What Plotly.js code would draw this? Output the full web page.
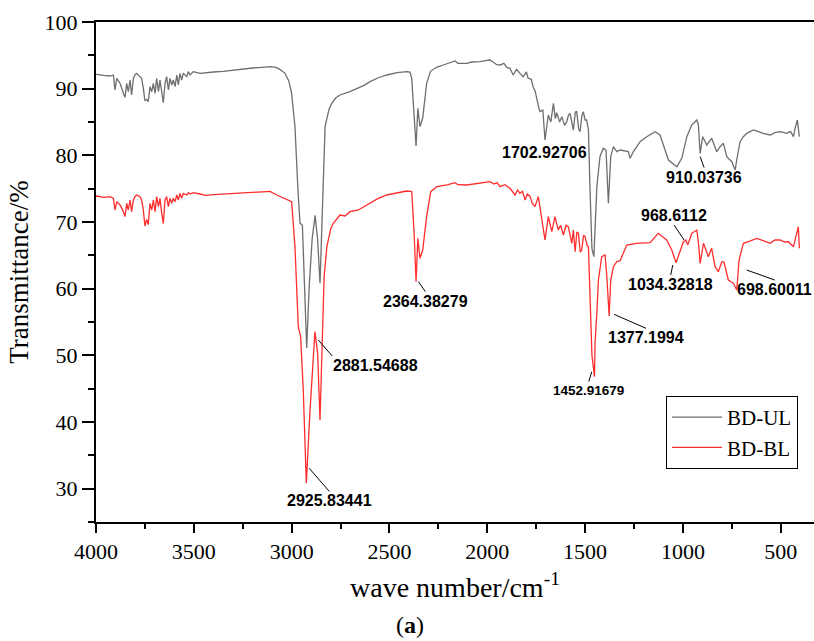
<!DOCTYPE html>
<html><head><meta charset="utf-8">
<script src="https://cdn.plot.ly/plotly-3.0.1.min.js"></script>
<style>html,body{margin:0;padding:0;background:#fff;} #chart{width:814px;height:641px;}</style>
</head><body><div id="chart"></div>
<script>
// BD-UL (grey) spectrum
const wnUL = [4000,3996,3960,3940,3928,3911,3903,3894,3877,3860,3852,3843,3835,3826,3818,3809,3801,3792,3775,3767,3758,3750,3741,3733,3724,3715,3707,3698,3690,3681,3673,3664,3656,3647,3639,3630,3622,3613,3605,3596,3587,3579,3571,3562,3554,3536,3528,3519,3503,3468,3440,3400,3350,3300,3250,3200,3150,3110,3080,3060,3034,3015,3000,2983,2967,2957,2945,2935,2923,2910,2895,2880,2867,2855,2841,2829,2810,2795,2775,2753,2702,2661,2630,2599,2560,2514,2460,2412,2395,2386,2375,2364,2355,2344,2330,2310,2290,2260,2225,2180,2165,2150,2105,2080,2037,2010,1986,1965,1952,1935,1915,1900,1884,1868,1850,1833,1817,1800,1792,1775,1766,1755,1747,1735,1730,1716,1705,1695,1688,1675,1662,1652,1645,1630,1619,1605,1594,1585,1577,1560,1550,1543,1533,1526,1516,1509,1500,1492,1483,1475,1465,1455,1448,1440,1424,1407,1393,1381,1369,1355,1338,1321,1279,1270,1253,1219,1185,1142,1117,1091,1074,1031,1006,980,955,929,921,912,899,878,853,827,810,793,776,750,733,725,708,691,674,640,615,589,554,530,503,469,450,435,427,415,405];
const tUL = [92.2,92.15,92.0,91.9,91.9,92.05,89.8,91.55,90.8,89.3,88.7,90.8,89.55,91.3,89.05,91.55,92.05,92.3,91.8,91.55,90.05,88.2,88.4,88.05,90.3,89.55,90.8,89.3,91.55,89.55,91.3,89.3,87.9,90.8,91.8,89.8,91.55,90.55,91.3,90.3,92.05,90.55,92.3,91.3,92.3,91.8,92.55,92.05,92.55,92.3,92.4,92.5,92.6,92.8,92.9,93.1,93.2,93.3,93.2,92.9,92.3,91.2,89.3,84.3,74.3,69.8,69.5,60.0,51.1,60.5,67.5,71.0,67.3,60.8,74.3,84.3,86.8,87.8,88.6,89.05,89.55,90.05,90.5,91.05,91.6,92.05,92.4,92.55,92.5,91.5,86.0,81.4,87.05,84.3,85.6,90.8,92.6,93.2,93.55,94.0,94.15,93.8,93.8,94.0,94.05,94.2,94.3,93.9,93.6,93.55,93.8,93.2,93.05,92.05,92.9,92.3,91.8,92.5,91.6,91.4,90.3,89.6,88.3,86.9,86.55,86.8,82.3,85.0,86.05,85.0,87.8,85.5,86.4,85.0,85.8,84.5,85.05,86.0,86.3,83.8,86.5,86.55,84.0,83.55,86.0,86.55,85.3,85.3,83.8,75.0,66.0,64.8,70.0,75.3,79.8,81.05,80.8,72.8,79.8,81.3,80.55,80.8,80.55,79.55,80.55,82.05,82.8,83.55,83.05,80.8,79.3,78.3,79.55,82.8,84.55,85.3,84.6,80.3,82.8,81.55,82.55,80.55,81.3,81.8,79.8,79.05,77.8,79.3,82.05,82.8,83.3,83.8,83.5,83.3,83.05,83.4,83.55,83.3,83.6,82.8,84.0,85.3,82.8];

// BD-BL (red) spectrum
const wnBL = [4000,3996,3960,3940,3928,3911,3903,3894,3877,3860,3852,3843,3835,3826,3818,3809,3801,3792,3775,3767,3758,3750,3741,3733,3724,3715,3707,3698,3690,3681,3673,3664,3656,3647,3639,3630,3622,3613,3605,3596,3587,3579,3571,3562,3554,3536,3528,3519,3503,3468,3440,3400,3350,3300,3250,3200,3150,3110,3076,3042,3000,2983,2966,2954,2940,2925,2906,2881,2867,2855,2843,2834,2820,2800,2787,2753,2727,2702,2659,2630,2599,2560,2514,2460,2412,2386,2374,2364,2355,2344,2330,2310,2289,2258,2200,2165,2150,2105,2037,2010,1986,1965,1950,1935,1910,1884,1870,1858,1845,1833,1820,1807,1795,1781,1770,1756,1739,1722,1705,1688,1670,1654,1637,1625,1611,1598,1586,1568,1560,1551,1542,1534,1525,1517,1508,1500,1490,1483,1475,1465,1452,1449,1440,1432,1415,1398,1390,1377,1369,1355,1338,1321,1287,1236,1168,1126,1083,1057,1035,1014,998,985,975,955,929,921,912,895,887,870,853,836,819,801,790,768,742,725,713,699,691,665,623,590,554,530,503,480,461,435,427,410,405];
const tBL = [73.8,73.9,73.7,73.8,73.8,73.55,71.8,73.05,72.55,71.55,70.8,72.8,71.8,73.3,71.55,73.3,73.8,74.05,73.8,73.3,71.8,69.4,70.4,69.6,72.8,71.8,73.3,71.55,73.8,72.3,73.55,71.3,69.8,73.3,73.8,72.3,73.55,72.8,73.55,73.05,74.05,73.3,74.3,73.55,74.3,74.05,74.4,74.2,74.4,74.2,74.0,74.1,74.2,74.3,74.4,74.5,74.6,74.6,74.05,73.55,73.05,66.3,54.3,52.8,44.35,30.8,41.8,53.55,50.3,40.3,51.8,61.8,66.3,69.0,69.8,71.05,70.9,71.55,71.8,72.3,72.8,73.5,74.05,74.4,74.65,74.55,68.3,61.05,67.55,64.55,65.8,70.8,74.55,75.3,75.6,75.9,75.6,75.55,75.8,75.9,76.05,75.7,75.9,75.3,75.6,75.05,74.5,74.05,74.8,74.3,74.6,73.3,74.2,73.8,72.8,72.3,73.8,70.8,67.3,70.8,68.55,70.8,68.8,69.5,68.05,69.5,69.3,66.8,68.8,65.55,68.5,68.3,65.5,65.8,68.0,67.8,66.5,66.3,60.0,50.0,46.8,52.0,56.3,61.3,64.8,65.05,62.3,55.9,61.3,63.3,64.05,64.2,66.55,66.8,66.9,68.3,67.3,65.8,63.9,65.5,67.0,67.3,66.6,68.3,68.8,67.0,63.8,66.8,66.2,64.8,66.05,63.3,62.55,64.05,64.0,61.3,60.8,59.8,64.3,65.8,66.8,67.05,67.55,67.2,66.8,67.3,67.3,67.0,67.05,66.3,67.3,69.3,66.05];

// Peak labels (text, anchor wavenumber, anchor transmittance)
const peakLabels = ['2925.83441','2881.54688','2364.38279','1452.91679','1377.1994','1034.32818','968.6112','910.03736','698.60011','1702.92706'];
const peakWn = [2910, 2864, 2352, 1466, 1352, 1052, 994, 912, 674, 1705];
const peakT  = [33.05, 52.3, 61.05, 47.55, 56.15, 63.55, 67.3, 79.8, 62.8, 82.3];

const seriesNames = ['BD-UL','BD-BL'];
const xTickVals = [4000,3500,3000,2500,2000,1500,1000,500];
const yTickVals = [30,40,50,60,70,80,90,100];

// label placement (style only)
const labelAx = [20, 14, 7, -3, 32, -2, -10, 4, 28, 0];
const labelAy = [23, 16, 10, 10, 14, 10, -15, 11, 10, 0];
const labelXAnchor = ['center','left','center','center','center','center','center','center','center','center'];
const labelYAnchor = ['top','top','top','top','top','top','bottom','top','top','top'];
const labelSize = [16,16,16,13.5,16,16,16,16,16,16];
const labelArrow = [true,true,true,true,true,true,true,true,true,false];

const serif = 'Liberation Serif, Times New Roman, serif';
const sans = 'Liberation Sans, Arial, sans-serif';

const traces = [
  {x: wnUL, y: tUL, type: 'scatter', mode: 'lines', name: seriesNames[0],
   line: {color: 'rgb(110,110,110)', width: 1.3}},
  {x: wnBL, y: tBL, type: 'scatter', mode: 'lines', name: seriesNames[1],
   line: {color: 'rgb(255,45,45)', width: 1.3}}
];

const annotations = peakLabels.map((t, i) => ({
  x: peakWn[i], y: peakT[i], xref: 'x', yref: 'y',
  text: '<b>' + t + '</b>',
  showarrow: labelArrow[i], arrowhead: 0, arrowwidth: 1, arrowcolor: '#000',
  ax: labelAx[i], ay: labelAy[i],
  xanchor: labelXAnchor[i], yanchor: labelYAnchor[i],
  yshift: labelArrow[i] ? 0 : -3,
  borderpad: 0,
  font: {family: sans, size: labelSize[i], color: '#000'}
}));
annotations.push({
  xref: 'paper', yref: 'paper', x: (410-96)/718, y: -(625-522)/500,
  text: '(<b>a</b>)', showarrow: false, xanchor: 'center', yanchor: 'middle',
  font: {family: serif, size: 24, color: '#000'}
});

const layout = {
  width: 814, height: 641,
  margin: {l: 96, r: 0, t: 22, b: 119},
  paper_bgcolor: '#fff', plot_bgcolor: '#fff',
  showlegend: true,
  legend: {x: (666-96)/718, y: (522-396)/500, xanchor: 'left', yanchor: 'top',
    bordercolor: '#000', borderwidth: 1, bgcolor: '#fff',
    font: {family: serif, size: 21, color: '#000'}, itemwidth: 50, tracegroupgap: 0},
  xaxis: {
    range: [4000, 330], autorange: false,
    tickvals: xTickVals, ticks: 'outside', ticklen: 9, tickwidth: 2, tickcolor: '#000',
    minor: {dtick: 250, ticks: 'outside', ticklen: 5, tickwidth: 2, tickcolor: '#000'},
    showline: true, linewidth: 2, linecolor: '#000', mirror: true,
    showgrid: false, zeroline: false,
    tickfont: {family: serif, size: 22, color: '#000'},
    title: {text: 'wave number/cm<sup>-1</sup>', font: {family: serif, size: 28, color: '#000'}, standoff: 14}
  },
  yaxis: {
    range: [25, 100], autorange: false,
    tickvals: yTickVals, ticks: 'outside', ticklen: 12, tickwidth: 2, tickcolor: '#000',
    minor: {dtick: 5, ticks: 'outside', ticklen: 6, tickwidth: 2, tickcolor: '#000'},
    showline: true, linewidth: 2, linecolor: '#000', mirror: false,
    showgrid: false, zeroline: false,
    tickfont: {family: serif, size: 22, color: '#000'},
    title: {text: 'Transmittance/%', font: {family: serif, size: 27, color: '#000'}, standoff: 8}
  },
  annotations: annotations
};

Plotly.newPlot('chart', traces, layout, {displayModeBar: false, staticPlot: true});
</script>
</body></html>
